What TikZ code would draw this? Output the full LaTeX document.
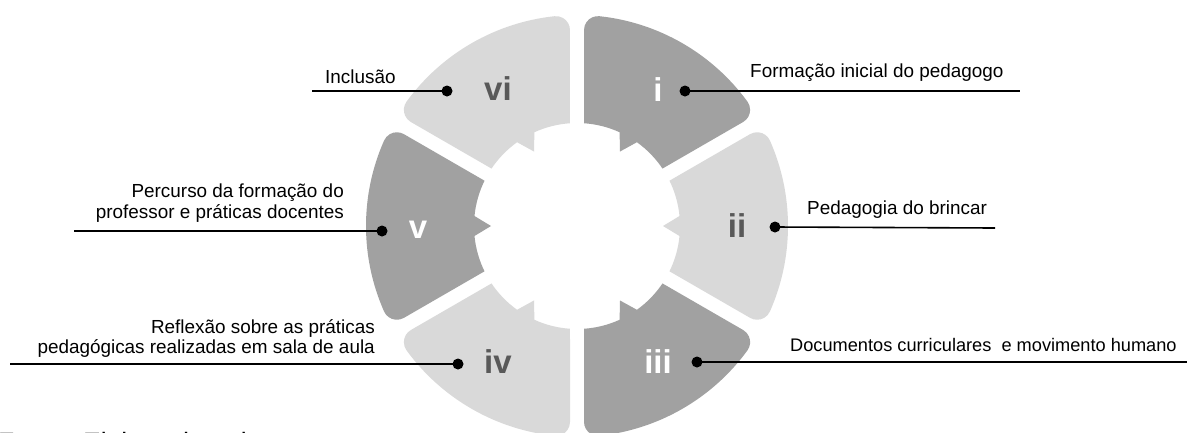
\documentclass[tikz,border=0pt]{standalone}
\usepackage{fontspec}
\setmainfont{Liberation Sans}
\definecolor{segdark}{RGB}{161,161,161}
\definecolor{seglight}{RGB}{217,217,217}
\definecolor{numgrey}{RGB}{89,89,89}
\begin{document}
\begin{tikzpicture}[x=1pt,y=1pt,
  lbl/.style={font=\fontsize{18.9}{22}\selectfont, inner sep=0, text=black},
  num/.style={font=\fontsize{33}{36}\selectfont\bfseries, inner sep=0, anchor=base},
  dotnode/.style={circle, fill=black, minimum size=11pt, inner sep=0},
  conn/.style={line width=1.6pt, black}]
\clip (0,0) rectangle (1187,-432);
\fill[white] (0,0) rectangle (1187,-432);
% segments
\foreach \a/\c in {60/segdark, 0/seglight, -60/segdark, -120/seglight, 180/segdark, 120/seglight}{
  \fill[\c, shift={(577,-226)}, rotate=\a]
    (-26.1:103) -- (-27.95:196.0)
    arc[start angle=-120, end angle=-23.88, radius=14]
    arc[start angle=-23.88, end angle=23.88, radius=211]
    arc[start angle=23.88, end angle=120, radius=14]
    -- (26.1:103)
    arc[start angle=26.1, end angle=5.57, radius=103]
    -- (86,0) -- (-5.57:103)
    arc[start angle=-5.57, end angle=-26.1, radius=103] -- cycle;
}
% numerals
\node[num, text=white]   (ni)   at (658,-101) {i};
\node[num, text=numgrey] (nii)  at (737,-237) {ii};
\node[num, text=white]   (niii) at (658,-373) {iii};
\node[num, text=numgrey] (niv)  at (498,-373) {iv};
\node[num, text=white]   (nv)   at (418,-238) {v};
\node[num, text=numgrey] (nvi)  at (498,-100) {vi};
% dots
\node[dotnode] (di)   at (685,-91) {};
\node[dotnode] (dii)  at (775,-227) {};
\node[dotnode] (diii) at (697,-362) {};
\node[dotnode] (div)  at (458,-364) {};
\node[dotnode] (dv)   at (382,-231) {};
\node[dotnode] (dvi)  at (447,-91) {};
% line ends
\coordinate (ei)   at (1020,-91);
\coordinate (eii)  at (995,-228);
\coordinate (eiii) at (1187,-362);
\coordinate (eiv)  at (10,-364);
\coordinate (ev)   at (74,-231);
\coordinate (evi)  at (312,-91);
\draw[conn] (di.center) -- (ei);
\draw[conn] (dii.center) -- (eii);
\draw[conn] (diii.center) -- (eiii);
\draw[conn] (div.center) -- (eiv);
\draw[conn] (dv.center) -- (ev);
\draw[conn] (dvi.center) -- (evi);
% labels
\node[lbl, anchor=base west] (ti) at (750,-77) {Formação inicial do pedagogo};
\node[lbl, anchor=base west] (tii) at (807,-214) {Pedagogia do brincar};
\node[lbl, anchor=base west, font=\fontsize{18.2}{22}\selectfont] (tiii) at (790,-351) {Documentos curriculares\ \ e movimento humano};
\node[lbl, anchor=base east] (tiva) at (375,-333) {Reflexão sobre as práticas};
\node[lbl, anchor=base east] (tivb) at (375,-353) {pedagógicas realizadas em sala de aula};
\node[lbl, anchor=base east] (tva) at (344,-197) {Percurso da formação do};
\node[lbl, anchor=base east] (tvb) at (344,-218) {professor e práticas docentes};
\node[lbl, anchor=base west] (tvi) at (325,-83) {Inclusão};
\node[anchor=base west, inner sep=0, font=\fontsize{26.5}{30}\selectfont] (fonte) at (-2,-451) {Fonte: Elaborado pela autora};
\end{tikzpicture}
\end{document}
